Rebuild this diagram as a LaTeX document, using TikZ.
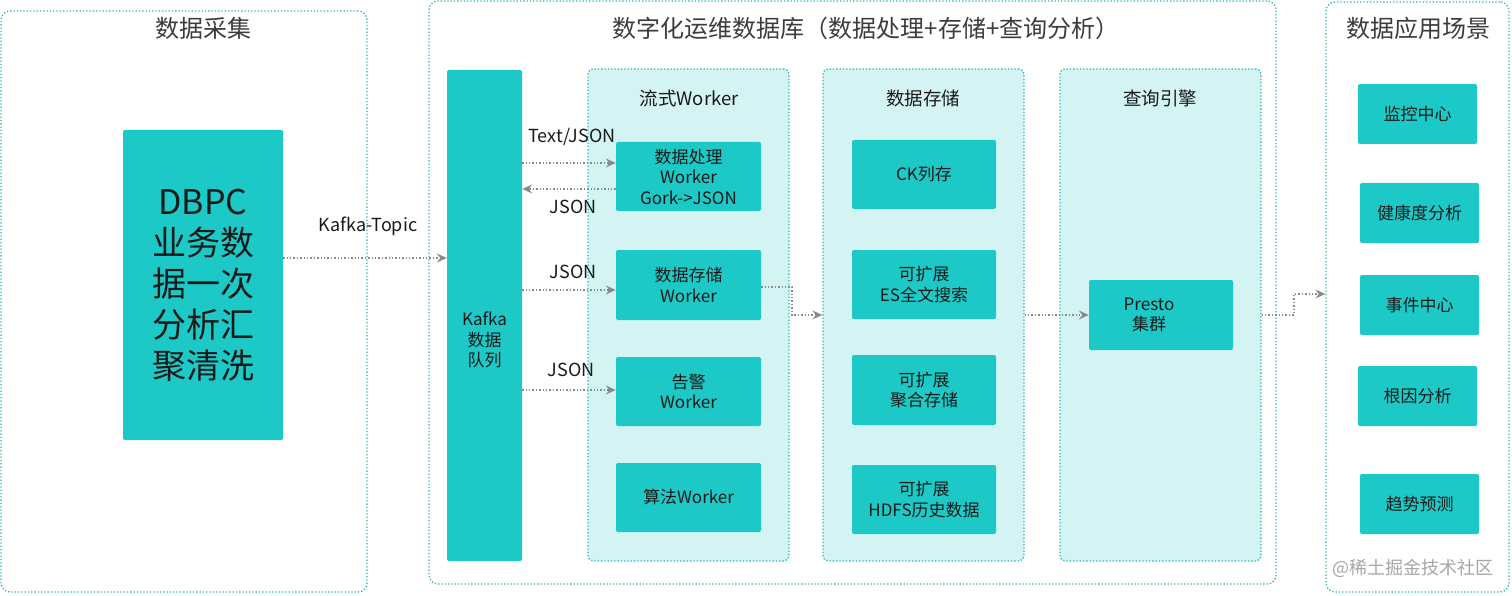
\documentclass[tikz,border=0pt]{standalone}
\usepackage{fontspec}
\setmainfont{Noto Sans CJK SC}
\usetikzlibrary{arrows.meta}
\definecolor{teal1}{HTML}{1CC9C6}
\definecolor{panelfill}{HTML}{D3F4F3}
\definecolor{borderc}{HTML}{2BB3B6}
\definecolor{arrowc}{HTML}{8A8A8A}
\definecolor{txt}{HTML}{1A1A1A}
\tikzset{
  panel/.style={draw=borderc, dotted, line width=1.3pt, rounded corners=9pt, inner sep=0pt},
  subpanel/.style={panel, fill=panelfill, rounded corners=5pt},
  tbox/.style={fill=teal1, rounded corners=2pt, inner sep=0pt, align=center, text=txt, font=\fontsize{17}{20.5}\selectfont},
  ptitle/.style={text=txt!85, font=\fontsize{24}{28}\selectfont},
  stitle/.style={text=txt, font=\fontsize{18.5}{22}\selectfont},
  lbl/.style={text=txt, font=\fontsize{18}{21}\selectfont},
  flow/.style={draw=arrowc, dotted, line width=1.4pt, -{Stealth[length=10pt,width=9pt,inset=3.5pt,fill=arrowc]}},
}
\begin{document}
\begin{tikzpicture}[x=1pt,y=-1pt]
\useasboundingbox (0,0) rectangle (1512,596);
% outer panels
\node[panel, minimum width=366pt, minimum height=581pt] (pA) at (184,301.5) {};
\node[ptitle] (tA) at (203,28) {数据采集};
\node[panel, minimum width=847pt, minimum height=583pt] (pB) at (852.5,292.5) {};
\node[ptitle] (tB) at (866,28) {数字化运维数据库（数据处理+存储+查询分析）};
\node[panel, minimum width=183pt, minimum height=590pt] (pC) at (1417.5,297) {};
\node[ptitle] (tC) at (1418,28) {数据应用场景};
% sub panels
\node[subpanel, minimum width=201pt, minimum height=492pt] (sW) at (688.5,315) {};
\node[stitle] (tW) at (689,98) {流式Worker};
\node[subpanel, minimum width=201pt, minimum height=492pt] (sS) at (923.5,315) {};
\node[stitle] (tS) at (923,98) {数据存储};
\node[subpanel, minimum width=201pt, minimum height=492pt] (sQ) at (1160.5,315) {};
\node[stitle] (tQ) at (1160,98) {查询引擎};
% left
\node[tbox, minimum width=160pt, minimum height=310pt, font=\fontsize{34}{41}\selectfont] (dbpc) at (203,285) {DBPC\\业务数\\据一次\\分析汇\\聚清洗};
% kafka
\node[tbox, minimum width=75pt, minimum height=491pt] (kafka) at (484.5,315.5) {};
\node[lbl, align=center, font=\fontsize{17}{20.5}\selectfont] (kafkat) at (484.5,340) {Kafka\\数据\\队列};
% workers
\node[tbox, minimum width=145pt, minimum height=69pt] (w1) at (688.5,176.5) {数据处理\\Worker\\Gork-{}>JSON};
\node[tbox, minimum width=145pt, minimum height=70pt] (w2) at (688.5,285) {数据存储\\Worker};
\node[tbox, minimum width=145pt, minimum height=69pt] (w3) at (688.5,391.5) {告警\\Worker};
\node[tbox, minimum width=145pt, minimum height=69pt] (w4) at (688.5,497.5) {算法Worker};
% storage
\node[tbox, minimum width=144pt, minimum height=69pt] (s1) at (924,174.5) {CK列存};
\node[tbox, minimum width=144pt, minimum height=69pt] (s2) at (924,284.5) {可扩展\\ES全文搜索};
\node[tbox, minimum width=144pt, minimum height=70pt] (s3) at (924,390) {可扩展\\聚合存储};
\node[tbox, minimum width=144pt, minimum height=69pt] (s4) at (924,499.5) {可扩展\\HDFS历史数据};
% query
\node[tbox, minimum width=144pt, minimum height=70pt] (presto) at (1161,315) {};
\node[lbl, align=center, font=\fontsize{17}{20.5}\selectfont] (prestot) at (1149,315) {Presto\\集群};
% apps
\node[tbox, minimum width=119pt, minimum height=60pt] (a1) at (1417.5,114) {监控中心};
\node[tbox, minimum width=119pt, minimum height=60pt] (a2) at (1419.5,213) {健康度分析};
\node[tbox, minimum width=119pt, minimum height=60pt] (a3) at (1419.5,305) {事件中心};
\node[tbox, minimum width=119pt, minimum height=60pt] (a4) at (1417.5,396) {根因分析};
\node[tbox, minimum width=119pt, minimum height=60pt] (a5) at (1419.5,504) {趋势预测};
% watermark
\node[text=black!35, font=\fontsize{18}{21}\selectfont] (wm) at (1413,568) {@稀土掘金技术社区};
% connectors
\draw[flow] ([yshift=27]dbpc.east) -- ([yshift=27]dbpc.east -| kafka.west);
\node[lbl] (lk) at (368,226) {Kafka-Topic};
\draw[flow] ([yshift=13.5]w1.west -| kafka.east) -- ([yshift=13.5]w1.west);
\node[lbl] (l1) at (572,137) {Text/JSON};
\draw[flow] ([yshift=-12.5]w1.west) -- ([yshift=-12.5]w1.west -| kafka.east);
\node[lbl] (l2) at (573,207) {JSON};
\draw[flow] ([yshift=-5]w2.west -| kafka.east) -- ([yshift=-5]w2.west);
\node[lbl] (l3) at (573,272) {JSON};
\draw[flow] ([yshift=1.5]w3.west -| kafka.east) -- ([yshift=1.5]w3.west);
\node[lbl] (l4) at (571,370) {JSON};
\coordinate (c1) at (792,287);
\draw[flow] ([yshift=-2]w2.east) -- (c1) |- (sS.west);
\draw[flow] (sS.east) -- (presto.west);
\coordinate (c2) at (1294,315);
\draw[flow] (sQ.east) -- (c2) |- ([yshift=3]pC.west);
\end{tikzpicture}
\end{document}
